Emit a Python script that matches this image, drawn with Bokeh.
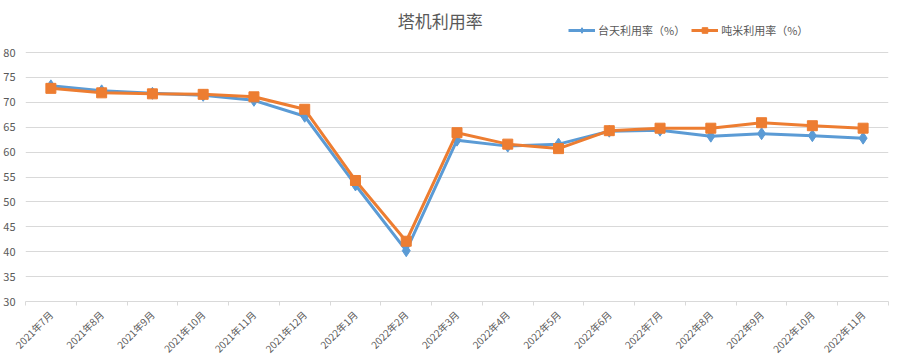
import math
from bokeh.plotting import figure
from bokeh.models import FixedTicker, Legend, LegendItem, Label, Range1d
from bokeh.embed import file_html
from bokeh.resources import INLINE

months = ["2021年7月", "2021年8月", "2021年9月", "2021年10月", "2021年11月", "2021年12月",
          "2022年1月", "2022年2月", "2022年3月", "2022年4月", "2022年5月", "2022年6月",
          "2022年7月", "2022年8月", "2022年9月", "2022年10月", "2022年11月"]
taitian = [73.3, 72.3, 71.8, 71.4, 70.4, 67.2, 53.4, 40.2, 62.4, 61.2, 61.6, 64.2, 64.4, 63.2, 63.7, 63.3, 62.8]
dunmi = [72.8, 71.9, 71.7, 71.6, 71.1, 68.6, 54.3, 42.1, 63.9, 61.6, 60.7, 64.3, 64.8, 64.8, 65.9, 65.3, 64.8]
y_ticks = [30, 35, 40, 45, 50, 55, 60, 65, 70, 75, 80]
title_text = "塔机利用率"
series_names = ["台天利用率（%）", "吨米利用率（%）"]

FONT = "Noto Sans CJK SC"
GRAY_TXT = "#595959"
GRID = "#D9D9D9"
BLUE = "#5B9BD5"
ORANGE = "#ED7D31"

# frame spans the full height above the x axis; the value axis (30..80) occupies its lower part
BOTTOM_BORDER = 63
FRAME_H = 364 - BOTTOM_BORDER
AXIS_H = 249.0  # pixels between 30 and 80
y_top = y_ticks[0] + (y_ticks[-1] - y_ticks[0]) * FRAME_H / AXIS_H

xs = list(range(len(months)))

p = figure(width=899, height=364, output_backend="svg", toolbar_location=None,
           x_range=Range1d(-0.5, len(months) - 0.5), y_range=Range1d(y_ticks[0], y_top),
           min_border_left=25, min_border_right=11, min_border_top=0, min_border_bottom=BOTTOM_BORDER)
p.outline_line_color = None
p.background_fill_color = "white"
p.border_fill_color = "white"

px_per_unit = AXIS_H / (y_ticks[-1] - y_ticks[0])
title_y = y_top - 20 / px_per_unit
title_x = (440 - 25.5) / ((899 - 11 - 25.5) / len(months)) - 0.5
p.add_layout(Label(x=title_x, y=title_y, text=title_text, text_align="center", text_baseline="middle",
                   text_font=FONT, text_font_size="17px", text_color=GRAY_TXT))

l1 = p.line(xs, taitian, line_color=BLUE, line_width=3)
s1 = p.scatter(xs, taitian, marker="diamond", size=12, fill_color=BLUE, line_color=BLUE)
l2 = p.line(xs, dunmi, line_color=ORANGE, line_width=3)
s2 = p.scatter(xs, dunmi, marker="square", size=10, fill_color=ORANGE, line_color=ORANGE)

legend = Legend(items=[LegendItem(label=series_names[0], renderers=[l1, s1]),
                       LegendItem(label=series_names[1], renderers=[l2, s2])],
                location=(543, FRAME_H - 38), orientation="horizontal",
                glyph_width=27, glyph_height=14, label_height=14, label_standoff=3,
                spacing=6, padding=0, margin=0, border_line_color=None,
                background_fill_alpha=0, label_text_font=FONT, label_text_font_size="11px",
                label_text_color=GRAY_TXT)
p.add_layout(legend)

p.xgrid.grid_line_color = None
p.ygrid.grid_line_color = GRID
p.ygrid.grid_line_width = 1

p.yaxis.ticker = FixedTicker(ticks=y_ticks)
p.yaxis.axis_line_color = None
p.yaxis.major_tick_line_color = None
p.yaxis.minor_tick_line_color = None
p.yaxis.major_label_standoff = 4
p.yaxis.major_label_text_font = FONT
p.yaxis.major_label_text_font_size = "11px"
p.yaxis.major_label_text_color = GRAY_TXT

p.xaxis.ticker = FixedTicker(ticks=xs, minor_ticks=[i - 0.5 for i in range(len(months) + 1)])
p.xaxis.major_label_overrides = {i: m for i, m in enumerate(months)}
p.xaxis.major_tick_line_color = None
p.xaxis.minor_tick_line_color = GRID
p.xaxis.minor_tick_out = 4
p.xaxis.minor_tick_in = 0
p.xaxis.axis_line_color = GRID
p.xaxis.major_label_standoff = 5
p.xaxis.major_label_orientation = math.pi / 4
p.xaxis.major_label_text_font = FONT
p.xaxis.major_label_text_font_size = "10px"
p.xaxis.major_label_text_color = GRAY_TXT

open("out.html", "w").write(file_html(p, INLINE))
